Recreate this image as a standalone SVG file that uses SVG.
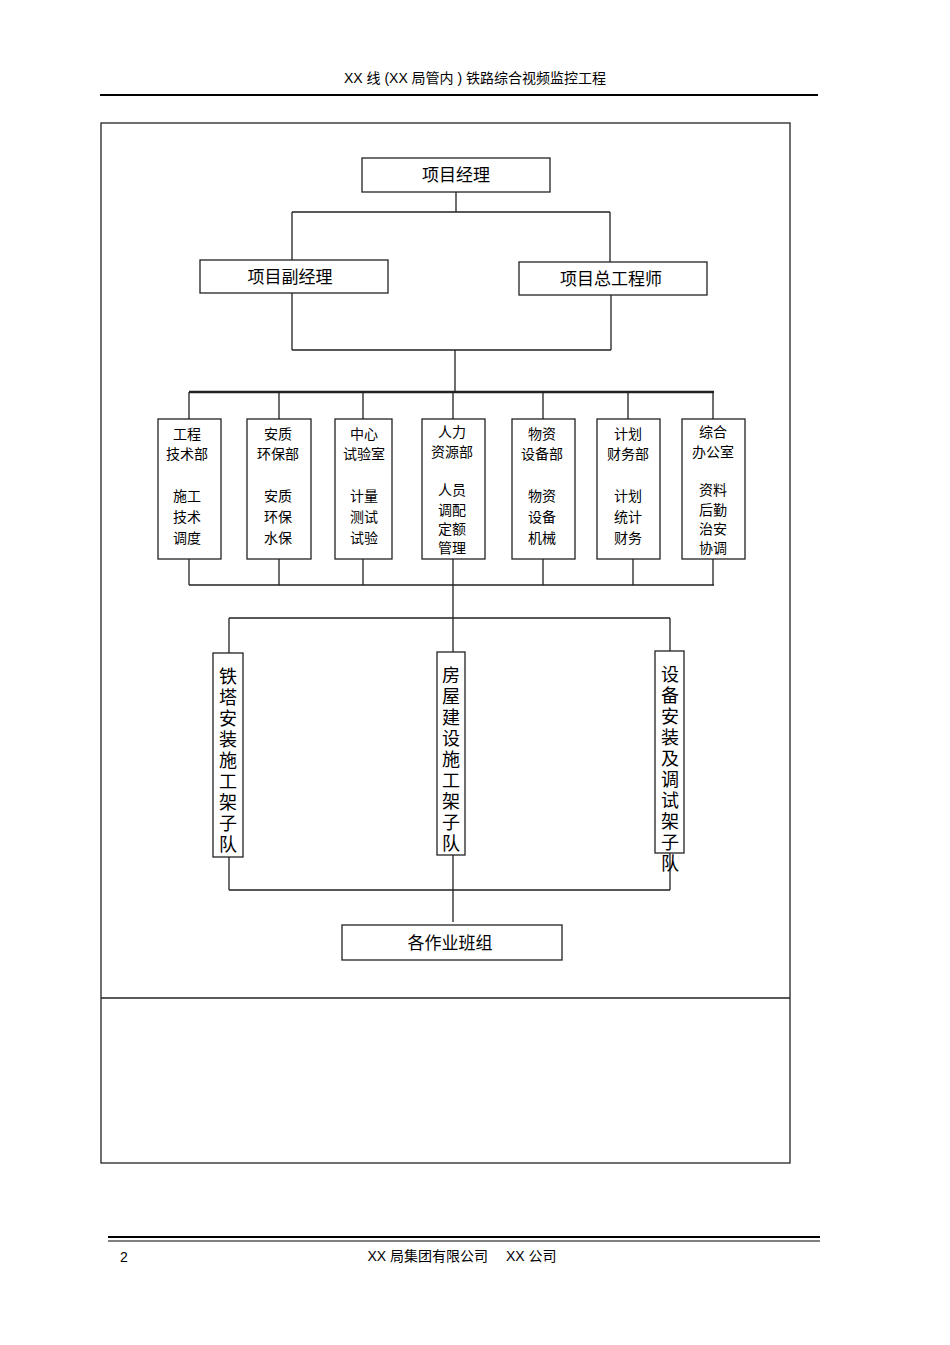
<svg xmlns="http://www.w3.org/2000/svg" width="950" height="1345" viewBox="0 0 950 1345">
<style>
text{font-family:"Liberation Serif","Noto Sans CJK SC",serif;fill:#000}
.b{fill:#fff;stroke:#222;stroke-width:1.3}
.c{fill:none;stroke:#222;stroke-width:1.3}
.t{font-size:17px;text-anchor:middle}
.s{font-size:14px;text-anchor:middle}
.v{font-size:18px;text-anchor:middle}
.h{font-family:"Liberation Sans","Noto Sans CJK SC",sans-serif;font-size:14px}
</style>
<rect width="950" height="1345" fill="#fff"/>
<text class="h" x="475" y="83" text-anchor="middle">XX 线 (XX 局管内 ) 铁路综合视频监控工程</text>
<line x1="100" y1="95" x2="818" y2="95" stroke="#000" stroke-width="2"/>
<rect x="101" y="123" width="689" height="1040" class="c" stroke-width="2"/>
<line x1="101" y1="998" x2="790" y2="998" stroke="#222" stroke-width="1.3"/>
<line x1="108" y1="1237" x2="820" y2="1237" stroke="#000" stroke-width="2"/>
<line x1="108" y1="1241" x2="820" y2="1241" stroke="#000" stroke-width="1"/>
<text class="h" x="120" y="1262" font-size="16">2</text>
<text class="h" x="462" y="1261" text-anchor="middle">XX 局集团有限公司　 XX 公司</text>
<g id="connectors" class="c">
<path d="M456 192V212M292 212H610M292 212V260M610 212V262"/>
<path d="M292 293V350M611 295V350M292 350H611M455 350V392"/>
<path d="M189 392H714" stroke-width="2.5"/>
<path d="M189 392V419M279 392V419M363 392V419M453 392V419M543 392V419M628 392V419M713 392V419"/>
<path d="M189 559V585M279 559V585M363 559V585M453 559V585M543 559V585M633 559V585M713 559V585M189 585H714"/>
<path d="M453 585V652M229 618H670M229 618V653M670 618V651" />
<path d="M229 857V890M670 853V890M229 890H670M453 855V922"/>
</g>
<g id="n1"><rect class="b" x="362" y="158" width="188" height="34"/><text class="t" x="456" y="181">项目经理</text></g>
<g id="n2"><rect class="b" x="200" y="260" width="188" height="33"/><text class="t" x="290" y="283">项目副经理</text></g>
<g id="n3"><rect class="b" x="519" y="262" width="188" height="33"/><text class="t" x="611" y="285">项目总工程师</text></g>
<g id="d1"><rect class="b" x="158" y="419" width="63" height="140"/><text class="s" x="187" y="439">工程</text><text class="s" x="187" y="459">技术部</text><text class="s" x="187" y="501">施工</text><text class="s" x="187" y="522">技术</text><text class="s" x="187" y="543">调度</text></g>
<g id="d2"><rect class="b" x="247" y="419" width="64" height="140"/><text class="s" x="278" y="439">安质</text><text class="s" x="278" y="459">环保部</text><text class="s" x="278" y="501">安质</text><text class="s" x="278" y="522">环保</text><text class="s" x="278" y="543">水保</text></g>
<g id="d3"><rect class="b" x="335" y="419" width="57" height="140"/><text class="s" x="364" y="439">中心</text><text class="s" x="364" y="459">试验室</text><text class="s" x="364" y="501">计量</text><text class="s" x="364" y="522">测试</text><text class="s" x="364" y="543">试验</text></g>
<g id="d4"><rect class="b" x="422" y="419" width="63" height="140"/><text class="s" x="452" y="437">人力</text><text class="s" x="452" y="457">资源部</text><text class="s" x="452" y="495">人员</text><text class="s" x="452" y="515">调配</text><text class="s" x="452" y="534">定额</text><text class="s" x="452" y="553">管理</text></g>
<g id="d5"><rect class="b" x="512" y="419" width="63" height="140"/><text class="s" x="542" y="439">物资</text><text class="s" x="542" y="459">设备部</text><text class="s" x="542" y="501">物资</text><text class="s" x="542" y="522">设备</text><text class="s" x="542" y="543">机械</text></g>
<g id="d6"><rect class="b" x="597" y="419" width="63" height="140"/><text class="s" x="628" y="439">计划</text><text class="s" x="628" y="459">财务部</text><text class="s" x="628" y="501">计划</text><text class="s" x="628" y="522">统计</text><text class="s" x="628" y="543">财务</text></g>
<g id="d7"><rect class="b" x="682" y="419" width="63" height="140"/><text class="s" x="713" y="437">综合</text><text class="s" x="713" y="457">办公室</text><text class="s" x="713" y="495">资料</text><text class="s" x="713" y="515">后勤</text><text class="s" x="713" y="534">治安</text><text class="s" x="713" y="553">协调</text></g>
<g id="t1"><rect class="b" x="213" y="653" width="30" height="204"/>
<text class="v" x="228"><tspan x="228" y="683">铁</tspan><tspan x="228" y="704">塔</tspan><tspan x="228" y="725">安</tspan><tspan x="228" y="746">装</tspan><tspan x="228" y="767">施</tspan><tspan x="228" y="788">工</tspan><tspan x="228" y="809">架</tspan><tspan x="228" y="830">子</tspan><tspan x="228" y="851">队</tspan></text></g>
<g id="t2"><rect class="b" x="437" y="652" width="28" height="203"/>
<text class="v" x="451"><tspan x="451" y="682">房</tspan><tspan x="451" y="703">屋</tspan><tspan x="451" y="724">建</tspan><tspan x="451" y="745">设</tspan><tspan x="451" y="766">施</tspan><tspan x="451" y="787">工</tspan><tspan x="451" y="808">架</tspan><tspan x="451" y="829">子</tspan><tspan x="451" y="850">队</tspan></text></g>
<g id="t3"><rect class="b" x="655" y="651" width="29" height="202"/>
<text class="v" x="670"><tspan x="670" y="681">设</tspan><tspan x="670" y="702">备</tspan><tspan x="670" y="723">安</tspan><tspan x="670" y="744">装</tspan><tspan x="670" y="765">及</tspan><tspan x="670" y="786">调</tspan><tspan x="670" y="807">试</tspan><tspan x="670" y="828">架</tspan><tspan x="670" y="849">子</tspan><tspan x="670" y="870">队</tspan></text></g>
<g id="n4"><rect class="b" x="342" y="925" width="220" height="35"/><text class="t" x="450" y="949">各作业班组</text></g>
</svg>
